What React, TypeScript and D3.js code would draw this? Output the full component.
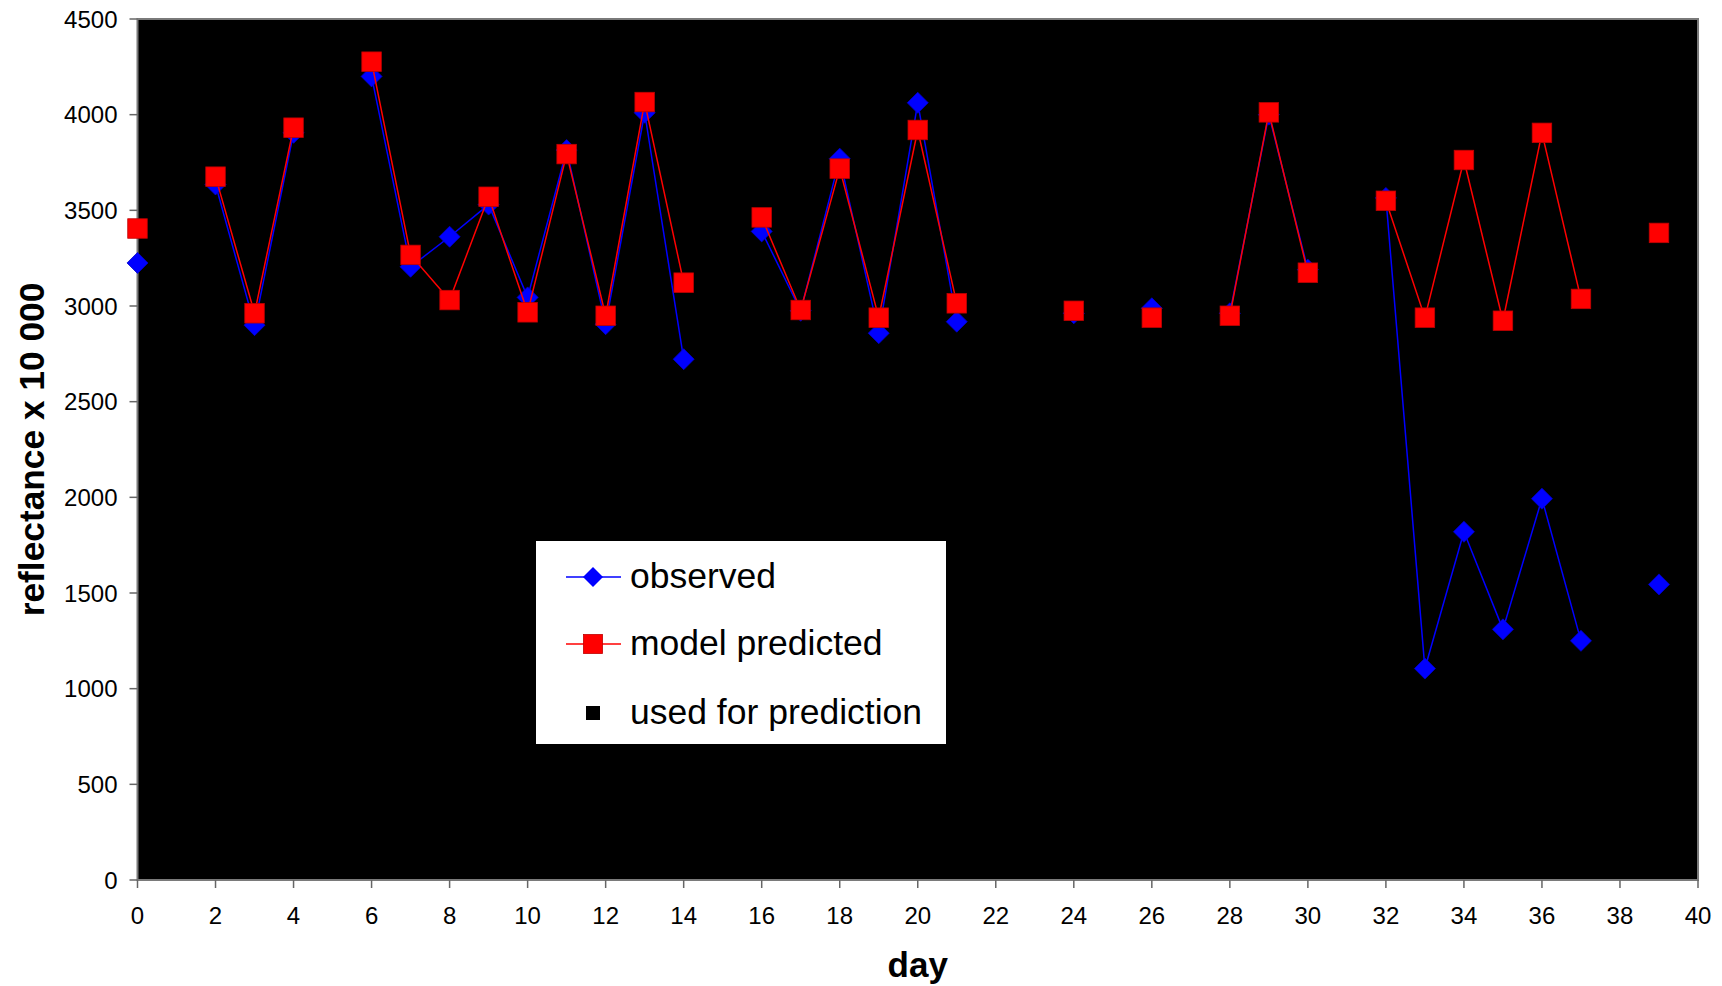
import React from "react";
import * as d3 from "d3";

const days: number[] = Array.from({ length: 40 }, (_, i) => i);

// observed reflectance x 10 000 (null = no measurement)
const observed: (number | null)[] = [
  3225, null, 3635, 2900, 3905, null, 4200, 3205, 3362, 3530,
  3045, 3815, 2905, 4010, 2722, null, 3390, 2975, 3770, 2858,
  4062, 2918, null, null, 2962, null, 2988, null, 2962, 4000,
  3190, null, 3565, 1105, 1820, 1310, 1993, 1250, null, 1545,
];

// model predicted
const predicted: (number | null)[] = [
  3405, null, 3676, 2962, 3932, null, 4277, 3267, 3031, 3571,
  2967, 3794, 2949, 4066, 3122, null, 3463, 2979, 3718, 2939,
  3920, 3014, null, null, 2975, null, 2939, null, 2949, 4012,
  3174, null, 3550, 2939, 3763, 2923, 3905, 3037, null, 3382,
];

const xTicks: number[] = d3.range(0, 41, 2);
const yTicks: number[] = d3.range(0, 4501, 500);

const legendItems: string[] = ["observed", "model predicted", "used for prediction"];

const W = 1722;
const H = 986;
const L = 137.5;
const R = 1698;
const T = 19;
const B = 880;
const FONT = "Arial, 'Liberation Sans', sans-serif";

export default function App() {
  const x = d3.scaleLinear().domain([0, 40]).range([L, R]);
  const y = d3.scaleLinear().domain([0, 4500]).range([B, T]);

  const mkLine = (vals: (number | null)[]) =>
    d3
      .line<number>()
      .defined((d) => vals[d] !== null)
      .x((d) => x(d))
      .y((d) => y(vals[d] as number))(days) || "";

  const diamond = (cx: number, cy: number, r: number) =>
    `M${cx},${cy - r}L${cx + r},${cy}L${cx},${cy + r}L${cx - r},${cy}Z`;

  const legY = [577, 644, 713];

  return (
    <svg
      width={W}
      height={H}
      style={{ position: "absolute", left: 0, top: 0, background: "#fff" }}
      fontFamily={FONT}
    >
      <rect x={L} y={T} width={R - L} height={B - T} fill="#000" stroke="#7a7a7a" strokeWidth={2} />

      {/* y ticks */}
      {yTicks.map((t) => (
        <g key={"y" + t}>
          <line x1={L - 8} x2={L} y1={y(t)} y2={y(t)} stroke="#666" strokeWidth={1.5} />
          <text x={L - 20} y={y(t)} dy="0.36em" textAnchor="end" fontSize={24} fill="#000">
            {t}
          </text>
        </g>
      ))}
      {/* x ticks */}
      {xTicks.map((t) => (
        <g key={"x" + t}>
          <line x1={x(t)} x2={x(t)} y1={B} y2={B + 8} stroke="#666" strokeWidth={1.5} />
          <text x={x(t)} y={924} textAnchor="middle" fontSize={24} fill="#000">
            {t}
          </text>
        </g>
      ))}

      {/* observed series */}
      <path d={mkLine(observed)} fill="none" stroke="#0000ff" strokeWidth={1.5} />
      {days
        .filter((d) => observed[d] !== null)
        .map((d) => (
          <path key={"o" + d} d={diamond(x(d), y(observed[d] as number), 10.5)} fill="#0000ff" stroke="#0000cc" strokeWidth={0.8} />
        ))}

      {/* predicted series */}
      <path d={mkLine(predicted)} fill="none" stroke="#ff0000" strokeWidth={1.5} />
      {days
        .filter((d) => predicted[d] !== null)
        .map((d) => (
          <rect
            key={"p" + d}
            x={x(d) - 9.75}
            y={y(predicted[d] as number) - 9.75}
            width={19.5}
            height={19.5}
            fill="#ff0000"
            stroke="#c00000"
            strokeWidth={0.8}
          />
        ))}

      {/* legend */}
      <rect x={536} y={541} width={410} height={203} fill="#fff" />
      <line x1={566} x2={621} y1={legY[0]} y2={legY[0]} stroke="#0000ff" strokeWidth={1.5} />
      <path d={diamond(593, legY[0], 10)} fill="#0000ff" />
      <line x1={566} x2={621} y1={legY[1]} y2={legY[1]} stroke="#ff0000" strokeWidth={1.5} />
      <rect x={593 - 9.5} y={legY[1] - 9.5} width={19} height={19} fill="#ff0000" stroke="#c00000" strokeWidth={0.8} />
      <rect x={593 - 7} y={legY[2] - 7} width={14} height={14} fill="#000" />
      {legendItems.map((s, i) => (
        <text key={s} x={630} y={legY[i] + 11} fontSize={35.5} fill="#000">
          {s}
        </text>
      ))}

      {/* axis titles */}
      <text x={(L + R) / 2} y={977} textAnchor="middle" fontSize={35} fontWeight="bold" fill="#000">
        day
      </text>
      <text
        transform={`translate(44, ${(T + B) / 2}) rotate(-90)`}
        textAnchor="middle"
        fontSize={35.3}
        fontWeight="bold"
        fill="#000"
      >
        reflectance x 10 000
      </text>
    </svg>
  );
}
